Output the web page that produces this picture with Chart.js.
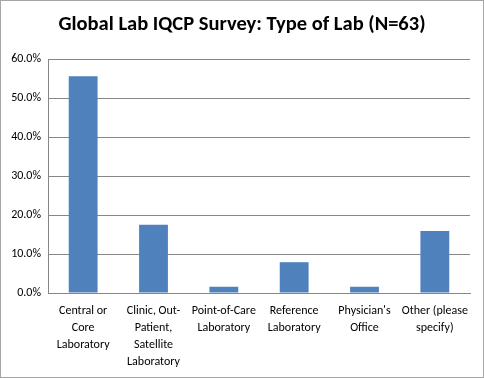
<!DOCTYPE html>
<html>
<head>
<meta charset="utf-8">
<script src="https://cdn.jsdelivr.net/npm/chart.js@4"></script>
<style>
  html, body { margin: 0; padding: 0; background: #fff; }
  #wrap { width: 484px; height: 378px; box-sizing: border-box; border: 1px solid #a6a6a6; }
  canvas { display: block; }
</style>
</head>
<body>
<div id="wrap"><canvas id="myChart" width="482" height="376"></canvas></div>
<script>
const categories = [
    ['Central or', 'Core', 'Laboratory'],
    ['Clinic, Out-', 'Patient,', 'Satellite', 'Laboratory'],
    ['Point-of-Care', 'Laboratory'],
    ['Reference', 'Laboratory'],
    ["Physician's", 'Office'],
    ['Other (please', 'specify)']
];
const percentages = [55.6, 17.5, 1.6, 7.9, 1.6, 15.9];
const chartTitle = 'Global Lab IQCP Survey: Type of Lab (N=63)';
const fontFamily = "Carlito, Calibri, 'Liberation Sans Narrow', 'Liberation Sans', sans-serif";

const ctx = document.getElementById('myChart').getContext('2d');
const myChart = new Chart(ctx, {
    type: 'bar',
    data: {
        labels: categories,
        datasets: [{
            data: percentages,
            backgroundColor: '#4F81BD',
            borderWidth: 0,
            categoryPercentage: 1.0,
            barPercentage: 0.41
        }]
    },
    options: {
        responsive: false,
        animation: false,
        devicePixelRatio: 1,
        layout: { padding: 0 },
        plugins: {
            legend: { display: false },
            tooltip: { enabled: false },
            title: {
                display: true,
                text: chartTitle,
                color: '#000',
                font: { family: fontFamily, size: 20.5, weight: 'bold' },
                padding: { top: 12, bottom: 21.5 }
            }
        },
        scales: {
            x: {
                grid: { display: false, drawTicks: false },
                border: { display: true, color: '#868686', width: 1 },
                ticks: {
                    color: '#000',
                    font: { family: fontFamily, size: 12, lineHeight: 1.4 },
                    maxRotation: 0,
                    autoSkip: false,
                    padding: 10
                },
                afterFit: function(scale) { scale.height = 84; }
            },
            y: {
                min: 0,
                max: 60,
                grid: { color: '#868686', drawTicks: false },
                border: { display: true, color: '#868686', width: 1 },
                ticks: {
                    stepSize: 10,
                    color: '#000',
                    padding: 7,
                    font: { family: fontFamily, size: 12 },
                    callback: function(value) { return value.toFixed(1) + '%'; }
                },
                afterFit: function(scale) { scale.width = 47; }
            },
            // empty right axis: leaves the white margin right of the plot
            yRight: {
                position: 'right',
                grid: { display: false, drawTicks: false },
                border: { display: false },
                ticks: { display: false },
                afterFit: function(scale) { scale.width = 13; }
            }
        }
    }
});
</script>
</body>
</html>
